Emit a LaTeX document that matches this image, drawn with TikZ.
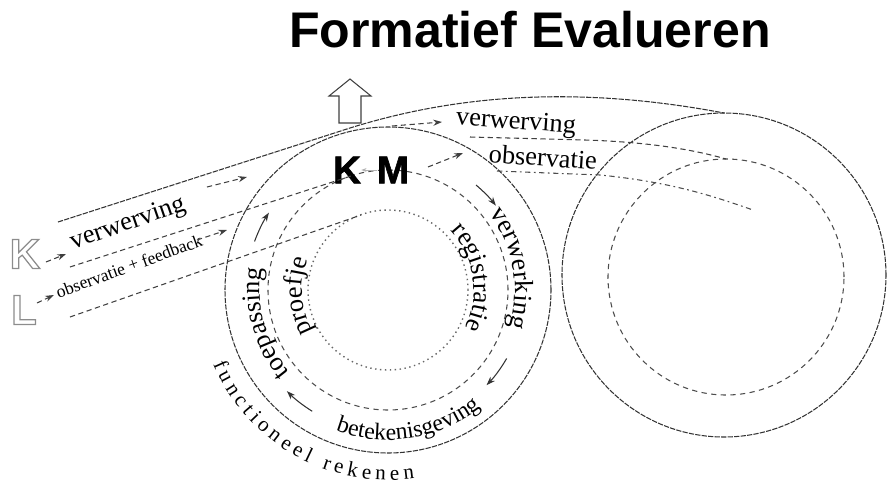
\documentclass[tikz,border=0pt]{standalone}
\usepackage{fontspec}
\setmainfont{Liberation Serif}
\setsansfont{Liberation Sans}
\newfontfamily\heavysans{Liberation Sans}[BoldFeatures={FakeBold=1.5}]
\usetikzlibrary{arrows.meta, positioning, calc, decorations.text}

% outlined letters (K, L)
\newcommand{\hollow}[1]{\special{pdf:literal direct 1 Tr 0.7 w 0.55 G}#1\special{pdf:literal direct 0 Tr 0 G}}

\begin{document}
\begin{tikzpicture}[
    x=0.02cm, y=0.02cm,
    belt/.style={draw=black!80, line width=0.6pt, dash pattern=on 3pt off 0.7pt},
    ring/.style={draw=black!70, line width=0.6pt, dash pattern=on 3pt off 2.5pt},
    dotring/.style={draw=black!60, line width=0.8pt, dotted},
    flow/.style={draw=black!75, line width=0.6pt, dash pattern=on 3pt off 2pt},
    dashdot/.style={draw=black!70, line width=0.6pt, dash pattern=on 3pt off 2pt on 1pt off 2pt},
    tip/.style={-{Stealth[length=5pt,width=3.5pt]}},
    turn/.style={draw=black!80, line width=0.6pt, tip},
    lbl/.style={font=\fontsize{15}{15}\selectfont, inner sep=1pt},
    letter/.style={font=\sffamily\bfseries\fontsize{24}{24}\selectfont, inner sep=0pt},
    heavy/.style={font=\heavysans\bfseries\fontsize{22}{22}\selectfont, inner sep=0pt},
    bend/.style 2 args={decorate, decoration={text along path, text align=center, text={|\fontsize{#1}{#1}\selectfont|#2}}}
]
\useasboundingbox (0,0) rectangle (887,-484);

% title
\node[font=\sffamily\bfseries\fontsize{28.5}{28.5}\selectfont] (title) at (530,-30) {Formatief Evalueren};

% the two wheels
\coordinate (km) at (388,-290);
\coordinate (rc) at (724,-275);
\coordinate (rin) at (726,-277);
\draw[belt] (km) circle[radius=163];
\draw[ring] (km) circle[radius=120];
\draw[dotring] (km) circle[radius=80];
\draw[belt] (rc) circle[radius=162];
\draw[ring] (rin) circle[radius=118];

% belt over the top
\coordinate (kbelt) at (58,-222);
\coordinate (ktan) at (350,-128);
\coordinate (rtop) at (724,-113);
\draw[belt] (kbelt) -- (ktan) .. controls (440,-100) and (560,-82) .. (rtop);

% hollow arrow up
\draw[black!75, line width=0.6pt, fill=white] (339,-123) -- (339,-96) -- (329,-96) -- (350,-79)
    -- (371,-96) -- (361,-96) -- (361,-123) -- cycle;

% K and L
\node[letter] (k) at (25,-254) {\hollow{K}};
\node[letter] (l) at (24,-310) {\hollow{L}};

% K M in the wheel
\node[heavy] (kk) at (347,-170) {K};
\node[heavy] (mm) at (393,-170) {M};
\draw[black!30, line width=0.5pt, -{Stealth[length=3pt]}] (mm.west) -- (kk.east);

% verwerving (from K)
\coordinate (k0) at (46,-262);
\coordinate (k1) at (66,-254);
\coordinate (k2) at (207,-187);
\coordinate (k3) at (247,-177);
\coordinate (k4) at (392,-126);
\coordinate (k5) at (442,-122);
\coordinate (k6) at (470,-137);
\coordinate (k7) at (585,-140);
\coordinate (rintop) at (726,-159);
\draw[flow, tip] (k0) -- (k1);
\node[lbl, rotate=19] (verw1) at (128,-224) {verwerving};
\draw[flow, tip] (k2) -- (k3);
\draw[flow, tip] (k4) -- (k5);
\node[lbl, rotate=-4] (verw2) at (516,-123) {verwerving};
\draw[flow] (k6) -- (k7) .. controls (650,-142) and (695,-150) .. (rintop);

% observatie (from L)
\coordinate (l0) at (37,-303);
\coordinate (l1) at (54,-295);
\coordinate (l2) at (197,-240);
\coordinate (l3) at (227,-230);
\coordinate (l4) at (428,-167);
\coordinate (l5) at (463,-153);
\coordinate (l6) at (497,-171);
\coordinate (l7) at (600,-175);
\coordinate (lend) at (753,-210);
\draw[flow, tip] (l0) -- (l1);
\node[font=\fontsize{10}{10}\selectfont, rotate=20, inner sep=1pt] (obs1) at (129,-266) {observatie + feedback};
\draw[flow, tip] (l2) -- (l3);
\draw[flow, tip] (l4) -- (l5);
\node[lbl, rotate=-4] (obs2) at (543,-157) {observatie};
\draw[dashdot] (l6) -- (l7) .. controls (670,-182) and (710,-195) .. (lend);

% lines running into the wheel
\coordinate (d1) at (70,-267);
\coordinate (d1t) at (351,-176);
\coordinate (d2) at (70,-317);
\coordinate (d2t) at (361,-215);
\draw[flow] (d1) -- (d1t);
\draw[flow] (d2) -- (d2t);

% cycle arrows
\draw[turn] (km) ++(50:137) arc[start angle=50, end angle=38, radius=137];
\draw[turn] (km) ++(-30:137) arc[start angle=-30, end angle=-44, radius=137];
\draw[turn] (km) ++(238:143) arc[start angle=238, end angle=225, radius=143];
\draw[turn] (km) ++(160:142) arc[start angle=160, end angle=147, radius=142];

% curved labels
\path[bend={15}{verwerking}] (km) ++(40:127) arc[start angle=40, end angle=-20, radius=127];
\path[bend={15}{registratie}] (km) ++(55:86) arc[start angle=55, end angle=-38, radius=86];
\path[bend={13.5}{betekenisgeving}] (km) ++(240:150) arc[start angle=240, end angle=318, radius=150];
\path[bend={15}{toepassing}] (km) ++(230:128) arc[start angle=230, end angle=160, radius=128];
\path[bend={15}{proefje}] (km) ++(215:86) arc[start angle=215, end angle=153, radius=86];
\path[decorate, decoration={text along path, text align={fit to path},
    text={|\fontsize{12}{12}\selectfont|functioneel rekenen}}]
    (km) ++(203:190) arc[start angle=203, end angle=278, radius=190];
\end{tikzpicture}
\end{document}
